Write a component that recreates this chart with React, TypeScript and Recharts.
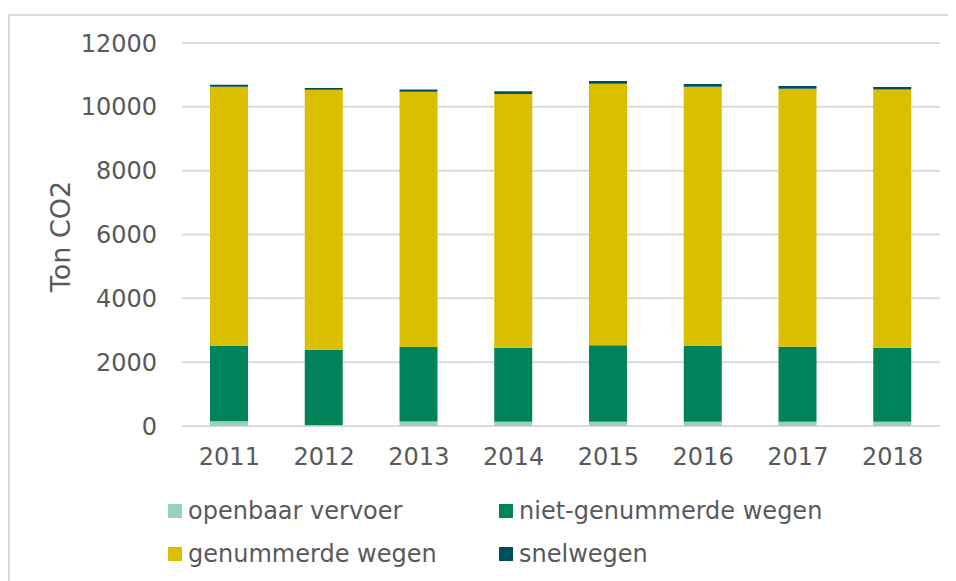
import React from 'react';
import { BarChart, Bar, XAxis, YAxis, CartesianGrid, Legend } from 'recharts';

const years = ['2011', '2012', '2013', '2014', '2015', '2016', '2017', '2018'];
const openbaarVervoer = [150, 30, 140, 130, 130, 130, 130, 130];
const nietGenummerdeWegen = [2365, 2360, 2335, 2320, 2400, 2385, 2355, 2325];
const genummerdeWegen = [8115, 8145, 8000, 7955, 8195, 8115, 8080, 8085];
const snelwegen = [60, 55, 65, 80, 85, 85, 85, 85];
const yTicks = [0, 2000, 4000, 6000, 8000, 10000, 12000];

const data = years.map((y, i) => ({
  year: y,
  ov: openbaarVervoer[i],
  niet: nietGenummerdeWegen[i],
  gen: genummerdeWegen[i],
  snel: snelwegen[i],
}));

const FONT = '"DejaVu Sans", Verdana, sans-serif';
const TXT = '#595959';

const legendPos: Record<string, { left: number; top: number }> = {
  ov: { left: 158, top: 35 },
  niet: { left: 489, top: 35 },
  gen: { left: 158, top: 78 },
  snel: { left: 489, top: 78 },
};

const renderLegend = (props: any) => {
  const payload = props.payload || [];
  return (
    <div style={{ position: 'relative', width: 946, height: 105 }}>
      {payload.map((p: any) => {
        const pos = legendPos[p.dataKey];
        if (!pos) return null;
        return (
          <div
            key={p.dataKey}
            style={{
              position: 'absolute',
              left: pos.left,
              top: pos.top - 14,
              height: 28,
              display: 'flex',
              alignItems: 'center',
              whiteSpace: 'nowrap',
            }}
          >
            <span style={{ display: 'inline-block', width: 14, height: 14, background: p.color, marginRight: 6 }} />
            <span style={{ fontFamily: FONT, fontSize: 24, color: TXT, lineHeight: '28px' }}>{p.value}</span>
          </div>
        );
      })}
    </div>
  );
};

const YLabel = (props: any) => {
  const vb = props.viewBox || { x: 0, y: 0, width: 0, height: 0 };
  const cx = vb.x + 50;
  const cy = vb.y + vb.height / 2 + 2;
  return (
    <text
      x={cx}
      y={cy}
      transform={`rotate(-90, ${cx}, ${cy})`}
      textAnchor="middle"
      dominantBaseline="central"
      fontFamily={FONT}
      fontSize={27}
      fill={TXT}
    >
      Ton CO2
    </text>
  );
};

export default function App() {
  return (
    <div
      style={{
        marginTop: 6,
        borderTop: '2px solid #d9d9d9',
        borderLeft: '2px solid #d9d9d9',
        width: 946,
        height: 565,
        position: 'relative',
        background: '#fff',
      }}
    >
      <BarChart
        width={946}
        height={565}
        data={data}
        margin={{ top: 27, right: 16, left: 0, bottom: 0 }}
        barSize={38}
      >
        <CartesianGrid vertical={false} stroke="#d9d9d9" strokeWidth={2} />
        <XAxis
          dataKey="year"
          axisLine={false}
          tickLine={false}
          tickSize={0}
          tickMargin={22}
          height={50}
          tick={{ fill: TXT, fontFamily: FONT, fontSize: 24 }}
        />
        <YAxis
          width={172}
          domain={[0, 12000]}
          ticks={yTicks}
          axisLine={false}
          tickLine={false}
          tickSize={0}
          tickMargin={25}
          tick={{ fill: TXT, fontFamily: FONT, fontSize: 24 }}
          label={<YLabel />}
        />
        <Legend
          verticalAlign="bottom"
          content={renderLegend}
          wrapperStyle={{ left: 0, bottom: 0, width: 946, height: 105 }}
        />
        <Bar dataKey="ov" name="openbaar vervoer" stackId="a" fill="#99d1c1" isAnimationActive={false} />
        <Bar dataKey="niet" name="niet-genummerde wegen" stackId="a" fill="#00825b" isAnimationActive={false} />
        <Bar dataKey="gen" name="genummerde wegen" stackId="a" fill="#d9bf00" isAnimationActive={false} />
        <Bar dataKey="snel" name="snelwegen" stackId="a" fill="#00505a" isAnimationActive={false} />
      </BarChart>
    </div>
  );
}
